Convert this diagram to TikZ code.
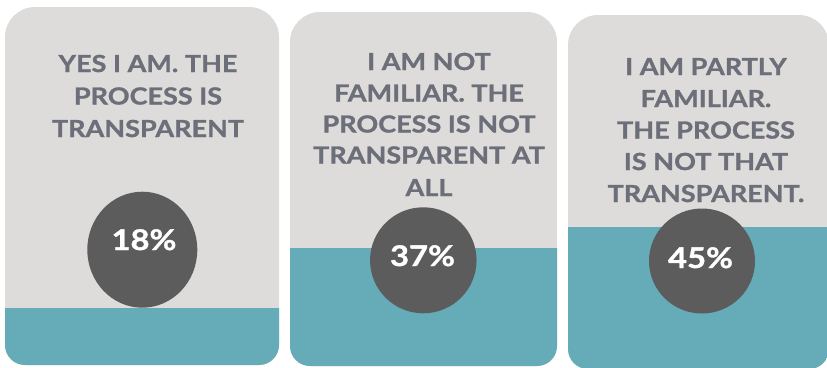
\documentclass[tikz,border=0pt]{standalone}
\usepackage{fontspec}
\usetikzlibrary{shapes.geometric}
\newfontfamily\lblfont{Lato}[FakeStretch=1.15, BoldFeatures={FakeBold=1.2}]
\definecolor{panelgray}{HTML}{DEDCDB}
\definecolor{tealband}{HTML}{66ABB8}
\definecolor{dotgray}{HTML}{5C5C5C}
\definecolor{labelgray}{HTML}{6C6F79}
\tikzset{
  lbl/.style={anchor=base, inner sep=0pt, text=labelgray, font=\lblfont\bfseries\fontsize{23.5}{28}\selectfont},
  pct/.style={anchor=base, inner sep=0pt, text=white, font=\lblfont\bfseries\fontsize{28.5}{34}\selectfont},
  dot/.style={ellipse, fill=dotgray, inner sep=0pt},
}
\newcommand\panelpath[4]{(#1,{(#2+#4)/2}) [rounded corners=30pt] -- (#1,#2) -- (#3,#2) -- (#3,{(#2+#4)/2}) [rounded corners=20pt] -- (#3,#4) -- (#1,#4) -- cycle}
\newcommand\drawpanel[5]{%
  \fill[panelgray] \panelpath{#1}{#2}{#3}{#4};
  \begin{scope}
    \clip \panelpath{#1}{#2}{#3}{#4};
    \fill[tealband] (#1-1,#5) rectangle (#3+1,#4+1);
  \end{scope}}
\begin{document}
\begin{tikzpicture}[x=1pt,y=-1pt]
\useasboundingbox (0,0) rectangle (827,367);
\clip (0,0) rectangle (827,367);
% panels
\drawpanel{5}{7}{279}{365}{308}
\drawpanel{290}{12}{557}{366}{248}
\drawpanel{568}{15}{829}{369}{227}
% panel 1 text
\node[lbl] (a1) at (148,72) {YES I AM. THE};
\node[lbl] (a2) at (148,104.5) {PROCESS IS};
\node[lbl] (a3) at (148,137) {TRANSPARENT};
% panel 2 text
\node[lbl] (b1) at (429,70) {I AM NOT};
\node[lbl] (b2) at (429,101.5) {FAMILIAR. THE};
\node[lbl] (b3) at (429,132.5) {PROCESS IS NOT};
\node[lbl] (b4) at (429,163.5) {TRANSPARENT AT};
\node[lbl] (b5) at (429,196) {ALL};
% panel 3 text
\node[lbl] (c1) at (706,75) {I AM PARTLY};
\node[lbl] (c2) at (706,107) {FAMILIAR.};
\node[lbl] (c3) at (706,138.5) {THE PROCESS};
\node[lbl] (c4) at (706,170) {IS NOT THAT};
\node[lbl] (c5) at (706,202) {TRANSPARENT.};
% circles
\node[dot, minimum width=110pt, minimum height=116pt] (d1) at (142.3,249.7) {};
\node[dot, minimum width=106.5pt, minimum height=106pt] (d2) at (423.3,260.3) {};
\node[dot, minimum width=106pt, minimum height=105pt] (d3) at (702,261) {};
% percentages
\node[pct] (e1) at (144,250) {18\%};
\node[pct] (e2) at (422.5,266) {37\%};
\node[pct] (e3) at (700.5,268) {45\%};
\end{tikzpicture}
\end{document}
